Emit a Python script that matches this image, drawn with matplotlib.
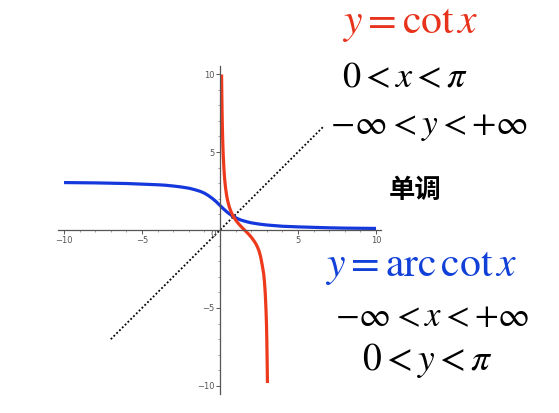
import matplotlib.pyplot as plt
from matplotlib.ticker import MultipleLocator, FixedLocator

plt.rcParams['mathtext.fontset'] = 'stix'
plt.rcParams['font.family'] = ['DejaVu Sans', 'Noto Sans CJK SC']

# y = arccot x
acot_x = [-10, -9, -8, -7, -6, -5, -4, -3.5, -3, -2.5, -2, -1.75, -1.5, -1.25, -1, -0.75, -0.5, -0.25,
          0, 0.25, 0.5, 0.75, 1, 1.25, 1.5, 1.75, 2, 2.5, 3, 3.5, 4, 5, 6, 7, 8, 9, 10]
acot_y = [3.04, 3.03, 3.02, 3.00, 2.98, 2.94, 2.90, 2.87, 2.82, 2.76, 2.68, 2.62, 2.55, 2.47, 2.36, 2.21, 2.03, 1.82,
          1.57, 1.33, 1.11, 0.93, 0.79, 0.67, 0.59, 0.52, 0.46, 0.38, 0.32, 0.28, 0.24, 0.20, 0.17, 0.14, 0.12, 0.11, 0.10]

# y = cot x, 0 < x < pi
cot_x = [0.1, 0.11, 0.12, 0.13, 0.15, 0.17, 0.2, 0.25, 0.3, 0.35, 0.4, 0.45, 0.5, 0.6, 0.7, 0.8, 0.9, 1.0,
         1.1, 1.2, 1.3, 1.4, 1.5, 1.6, 1.7, 1.8, 1.9, 2.0, 2.1, 2.2, 2.3, 2.4, 2.5, 2.6, 2.7, 2.8,
         2.85, 2.9, 2.95, 2.98, 3.0, 3.02, 3.04]
cot_y = [9.97, 9.05, 8.29, 7.65, 6.62, 5.83, 4.93, 3.92, 3.23, 2.74, 2.37, 2.07, 1.83, 1.46, 1.19, 0.97, 0.79, 0.64,
         0.51, 0.39, 0.28, 0.17, 0.07, -0.03, -0.13, -0.23, -0.34, -0.46, -0.59, -0.73, -0.89, -1.09, -1.34, -1.70, -2.22, -2.81,
         -3.33, -4.06, -5.16, -6.08, -7.02, -8.27, -9.81]

# dotted line y = x
diag_x = [-7.0, 6.6]
diag_y = [-7.0, 6.6]

texts = [
    (r'$y=\mathrm{cot}\,x$', 410, 23, '#e8331c', 30),
    (r'$0<x<\pi$', 405, 77, 'black', 26),
    (r'$-\infty<y<+\infty$', 429, 126, 'black', 25.5),
    (r'$y=\mathrm{arc\,cot}\,x$', 421, 266, '#1040d8', 30),
    (r'$-\infty<x<+\infty$', 432, 316, 'black', 25),
    (r'$0<y<\pi$', 427, 360, 'black', 27),
]

fig = plt.figure(figsize=(5.59, 4.13), dpi=100)
ax = fig.add_axes([0.1034, 0.0465, 0.5776, 0.7932])
ax.set_xlim(-10.4, 10.3)
ax.set_ylim(-10.5, 10.5)

ax.plot(diag_x, diag_y, color='black', lw=1.3, ls=(0, (1, 1.2)))
ax.plot(acot_x, acot_y, color='#1438dc', lw=2.3, solid_capstyle='butt')
ax.plot(cot_x, cot_y, color='#ee3a1c', lw=2.3, solid_capstyle='butt')

for s in ['top', 'right']:
    ax.spines[s].set_visible(False)
ax.spines['left'].set_position(('data', 0))
ax.spines['bottom'].set_position(('data', 0))
for s in ['left', 'bottom']:
    ax.spines[s].set_color('#555555')
    ax.spines[s].set_linewidth(0.9)

ax.xaxis.set_major_locator(FixedLocator([-10, -5, 5, 10]))
ax.yaxis.set_major_locator(FixedLocator([-10, -5, 5, 10]))
ax.xaxis.set_minor_locator(MultipleLocator(1))
ax.yaxis.set_minor_locator(MultipleLocator(1))
ax.tick_params(which='major', direction='out', length=3, width=0.7, color='#555555',
               labelsize=6, labelcolor='#555555', pad=1)
ax.tick_params(which='minor', direction='out', length=1.5, width=0.5, color='#777777')
ax.text(-0.45, -0.3, '0', fontsize=6.5, color='#555555', ha='center', va='center')

for s, x, y, c, fs in texts:
    fig.text(x / 559, 1 - y / 413, s, color=c, fontsize=fs, ha='center', va='center')
fig.text(415 / 559, 1 - 190 / 413, '单调', family=['Noto Sans CJK SC'], fontweight='bold',
         fontsize=19, ha='center', va='center')

fig.savefig('out.png', dpi=100)
